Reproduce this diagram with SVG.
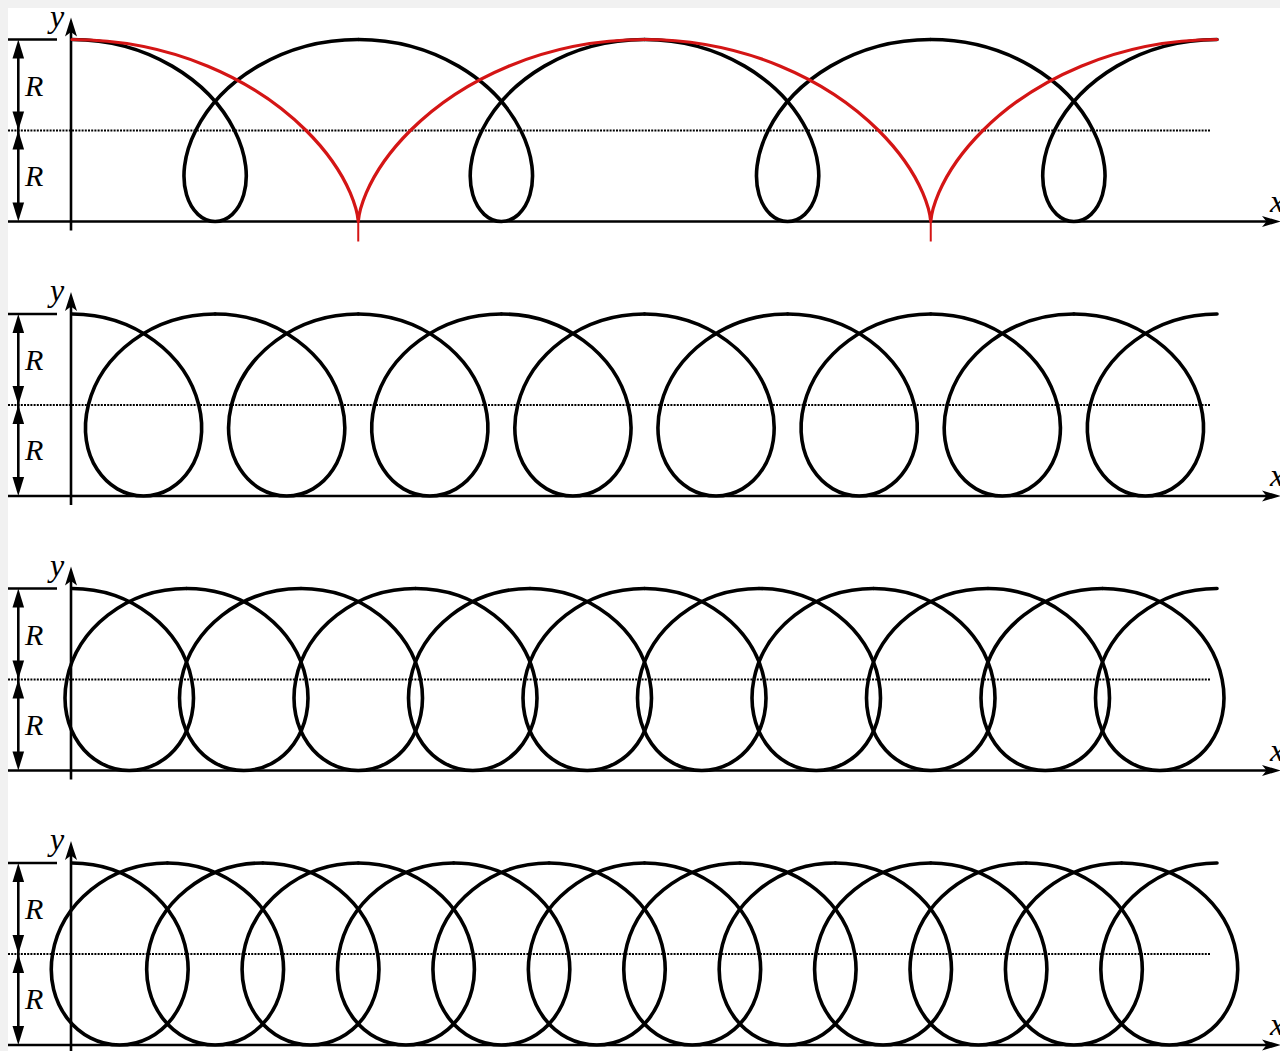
<svg xmlns="http://www.w3.org/2000/svg" xmlns:xlink="http://www.w3.org/1999/xlink" width="1280" height="1051" viewBox="0 0 1280 1051">
<style>
.ax{stroke:#000;stroke-width:2.6;fill:none}
.dot{stroke:#000;stroke-width:2.2;stroke-dasharray:2 1.2;fill:none}
.ah{fill:#000;stroke:none}
.cv{stroke:#000;stroke-width:3.6;fill:none;stroke-linecap:round;stroke-linejoin:round}
.red{stroke:#d41515;stroke-width:3.2;fill:none;stroke-linecap:round;stroke-linejoin:round}
.lbl{font-family:"Liberation Serif","DejaVu Serif","Times New Roman",serif;font-style:italic;fill:#000}
</style>
<defs>
<g id="frame">
<line class="ax" x1="8" y1="0" x2="57" y2="0"/>
<line class="dot" x1="8" y1="91" x2="1210" y2="91"/>
<line class="ax" x1="8" y1="182" x2="1270" y2="182"/>
<polygon class="ah" points="1281,182 1262,176.5 1266.5,182 1262,187.5"/>
<line class="ax" x1="71" y1="191" x2="71" y2="-10"/>
<polygon class="ah" points="71,-22 65,-3 71,-7.5 77,-3"/>
<line class="ax" x1="18.3" y1="8" x2="18.3" y2="174"/>
<polygon class="ah" points="18.3,0 12.5,19 24.1,19"/>
<polygon class="ah" points="18.3,91 12.5,72 24.1,72"/>
<polygon class="ah" points="18.3,91 12.5,110 24.1,110"/>
<polygon class="ah" points="18.3,182 12.5,163 24.1,163"/>
<text class="lbl" x="25" y="56" font-size="30">R</text>
<text class="lbl" x="25" y="146" font-size="30">R</text>
<text class="lbl" x="50" y="-13" font-size="32">y</text>
<text class="lbl" x="1270" y="172" font-size="32">x</text>
</g>
<path id="p1" class="cv" d="M0,0 C75.42,0 137.40,40.74 162.56,91 C187.72,141.26 168.23,182 143.13,182 C118.03,182 98.53,141.26 123.69,91 C148.85,40.74 210.83,0 286.25,0"/>
<path id="p2" class="cv" d="M0,0 C62.84,0 114.20,40.74 126.78,91 C139.36,141.26 109.24,182 71.56,182 C33.88,182 3.76,141.26 16.34,91 C28.92,40.74 80.29,0 143.13,0"/>
<path id="p3" class="cv" d="M0,0 C60.32,0 109.57,40.74 119.63,91 C129.69,141.26 97.45,182 57.25,182 C17.05,182 -15.19,141.26 -5.13,91 C4.94,40.74 54.18,0 114.5,0"/>
<path id="p4" class="cv" d="M0,0 C58.65,0 106.46,40.74 114.85,91 C123.24,141.26 89.58,182 47.71,182 C5.84,182 -27.83,141.26 -19.44,91 C-11.05,40.74 36.77,0 95.42,0"/>
<path id="cyc" class="red" d="M0,0 C100.59,0 183.80,40.74 234.13,91 C284.46,141.26 286.18,182 286.25,182 C286.32,182 288.05,141.26 338.38,91 C388.71,40.74 471.91,0 572.5,0"/>
</defs>
<rect x="0" y="0" width="1280" height="1051" fill="#f1f1f1"/>
<rect x="8" y="8" width="1272" height="1043" fill="#fff"/>

<g id="panel1" transform="translate(0,39.5)">
<use xlink:href="#frame"/>
<g id="curve1" transform="translate(72,0)">
<use xlink:href="#p1" x="0"/>
<use xlink:href="#p1" x="286.25"/>
<use xlink:href="#p1" x="572.5"/>
<use xlink:href="#p1" x="858.75"/>
</g>
<g id="cycloid" transform="translate(72,0)">
<use xlink:href="#cyc" x="0"/>
<use xlink:href="#cyc" x="572.5"/>
<line x1="286.25" y1="182" x2="286.25" y2="202" stroke="#d41515" stroke-width="2"/>
<line x1="858.75" y1="182" x2="858.75" y2="202" stroke="#d41515" stroke-width="2"/>
</g>
</g>

<g id="panel2" transform="translate(0,314)">
<use xlink:href="#frame"/>
<g id="curve2" transform="translate(72,0)">
<use xlink:href="#p2" x="0"/>
<use xlink:href="#p2" x="143.125"/>
<use xlink:href="#p2" x="286.25"/>
<use xlink:href="#p2" x="429.375"/>
<use xlink:href="#p2" x="572.5"/>
<use xlink:href="#p2" x="715.625"/>
<use xlink:href="#p2" x="858.75"/>
<use xlink:href="#p2" x="1001.875"/>
</g>
</g>

<g id="panel3" transform="translate(0,588.5)">
<use xlink:href="#frame"/>
<g id="curve3" transform="translate(72,0)">
<use xlink:href="#p3" x="0"/>
<use xlink:href="#p3" x="114.5"/>
<use xlink:href="#p3" x="229"/>
<use xlink:href="#p3" x="343.5"/>
<use xlink:href="#p3" x="458"/>
<use xlink:href="#p3" x="572.5"/>
<use xlink:href="#p3" x="687"/>
<use xlink:href="#p3" x="801.5"/>
<use xlink:href="#p3" x="916"/>
<use xlink:href="#p3" x="1030.5"/>
</g>
</g>

<g id="panel4" transform="translate(0,863)">
<use xlink:href="#frame"/>
<g id="curve4" transform="translate(72,0)">
<use xlink:href="#p4" x="0"/>
<use xlink:href="#p4" x="95.417"/>
<use xlink:href="#p4" x="190.833"/>
<use xlink:href="#p4" x="286.25"/>
<use xlink:href="#p4" x="381.667"/>
<use xlink:href="#p4" x="477.083"/>
<use xlink:href="#p4" x="572.5"/>
<use xlink:href="#p4" x="667.917"/>
<use xlink:href="#p4" x="763.333"/>
<use xlink:href="#p4" x="858.75"/>
<use xlink:href="#p4" x="954.167"/>
<use xlink:href="#p4" x="1049.583"/>
</g>
</g>
</svg>
